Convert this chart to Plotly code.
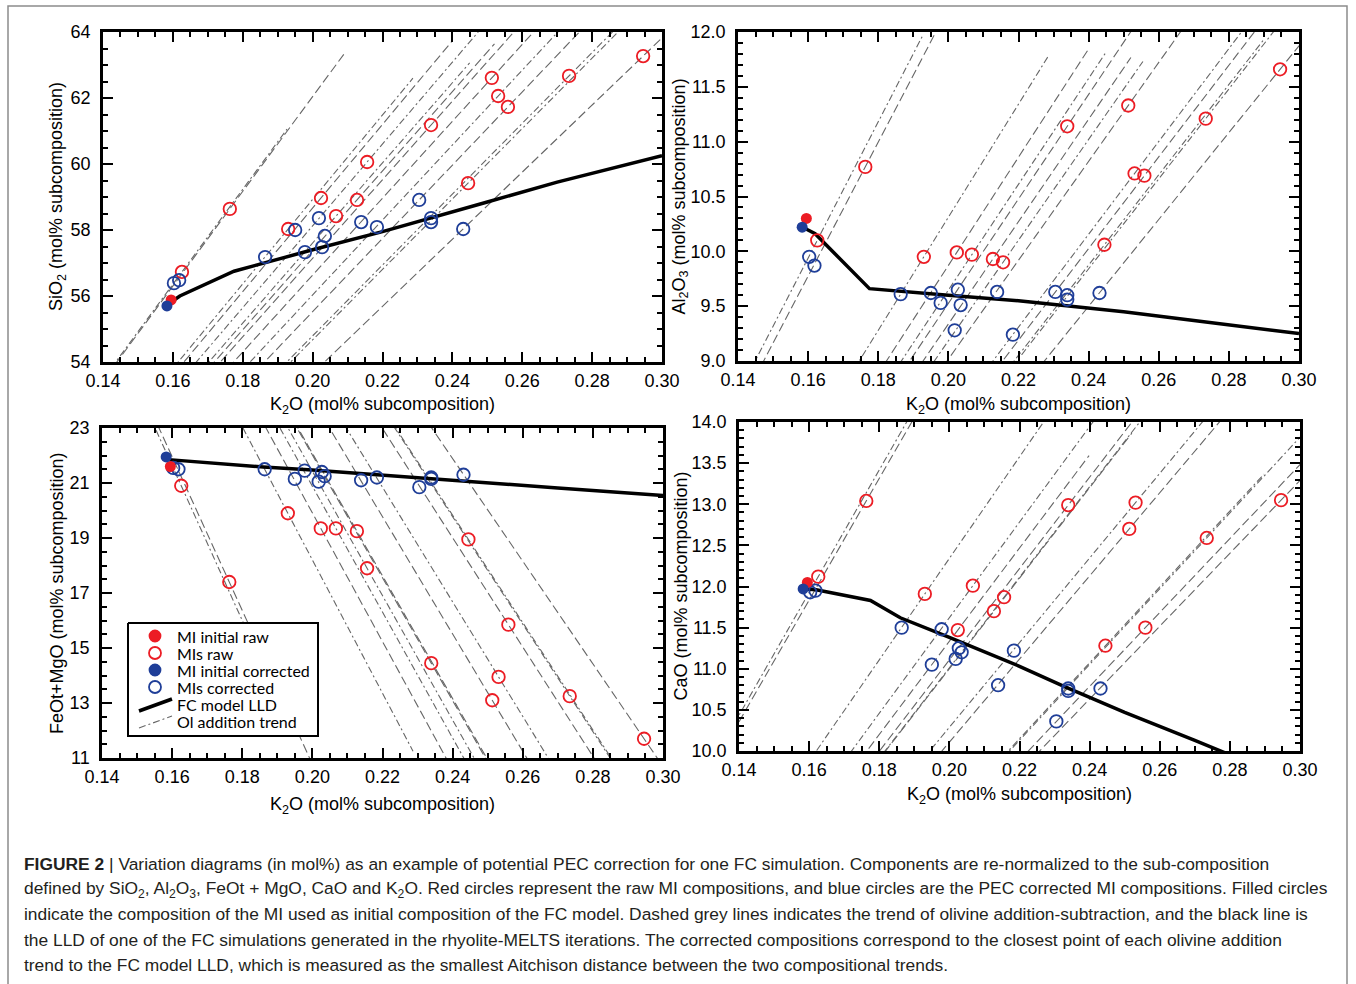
import plotly.graph_objects as go

W, H = 1356, 984

# ---------------------------------------------------------------------------
# Melt-inclusion compositions (mol% of the SiO2-Al2O3-FeOt+MgO-CaO-K2O subcomposition)
# ---------------------------------------------------------------------------
k2o_raw = [0.1626, 0.1763, 0.1930, 0.2024, 0.2067, 0.2127, 0.2156,
           0.2339, 0.2445, 0.2513, 0.2531, 0.2559, 0.2734, 0.2946]
k2o_corr = [0.1603, 0.1618, 0.1864, 0.1950, 0.1978, 0.2035, 0.2018,
            0.2027, 0.2339, 0.2139, 0.2184, 0.2305, 0.2339, 0.2431]

sio2_raw = [56.73, 58.64, 58.03, 58.97, 58.42, 58.91, 60.06,
            61.18, 59.42, 62.61, 62.06, 61.73, 62.67, 63.27]
sio2_corr = [56.39, 56.48, 57.18, 58.00, 57.33, 57.82, 58.36,
             57.48, 58.24, 58.24, 58.09, 58.91, 58.36, 58.03]

al2o3_raw = [10.10, 10.77, 9.95, 9.99, 9.97, 9.93, 9.90,
             11.14, 10.06, 11.33, 10.71, 10.69, 11.21, 11.66]
al2o3_corr = [9.95, 9.87, 9.61, 9.62, 9.53, 9.51, 9.28,
              9.65, 9.60, 9.63, 9.24, 9.63, 9.56, 9.62]

femg_raw = [20.90, 17.40, 19.90, 19.35, 19.35, 19.25, 17.90,
            14.45, 18.95, 13.10, 13.95, 15.85, 13.25, 11.70]
femg_corr = [21.55, 21.50, 21.50, 21.15, 21.45, 21.25, 21.05,
             21.40, 21.15, 21.10, 21.20, 20.85, 21.20, 21.30]

cao_raw = [12.12, 13.04, 11.91, 11.47, 12.01, 11.70, 11.87,
           12.99, 11.28, 12.70, 13.02, 11.50, 12.59, 13.05]
cao_corr = [11.93, 11.95, 11.50, 11.05, 11.48, 11.20, 11.12,
            11.25, 10.76, 10.80, 11.22, 10.36, 10.73, 10.76]

# Inclusion used as the starting composition of the FC model
init_k2o_raw, init_k2o_corr = 0.1595, 0.1583
init_raw = {"SiO2": 55.88, "Al2O3": 10.30, "FeMg": 21.60, "CaO": 12.05}
init_corr = {"SiO2": 55.70, "Al2O3": 10.22, "FeMg": 21.95, "CaO": 11.97}

# FC model liquid line of descent (rhyolite-MELTS run)
lld_k2o = [0.1590, 0.1620, 0.1775, 0.1860, 0.2000, 0.2200, 0.2330, 0.2500, 0.2700, 0.3000]
lld_sio2 = [55.78, 56.00, 56.75, 57.00, 57.40, 57.95, 58.35, 58.85, 59.45, 60.25]
lld_al2o3 = [10.21, 10.16, 9.66, 9.64, 9.60, 9.55, 9.51, 9.45, 9.37, 9.25]
lld_femg = [21.85, 21.82, 21.65, 21.58, 21.47, 21.28, 21.15, 21.00, 20.82, 20.55]
lld_cao = [11.97, 11.96, 11.83, 11.62, 11.38, 11.03, 10.78, 10.47, 10.13, 9.60]

# Olivine end-member in the same subcomposition (K2O = 0)
olivine = {"SiO2": 33.33, "Al2O3": 0.0, "FeMg": 66.67, "CaO": 0.0}
# Melt fraction range spanned by each olivine addition-subtraction trend
trend_span = (0.50, 1.185)

# ---------------------------------------------------------------------------
RED = "#ec1c24"
BLUE = "#1f3e98"
TREND = "#666666"
AX_FONT = "Liberation Sans, Arial, Helvetica, sans-serif"
LEG_FONT = "Lato, Noto Sans, sans-serif"
CAP_FONT = "Liberation Sans, Arial, Helvetica, sans-serif"
DASHES = ["7px,3px,2px,3px", "9px,4px"]

# Panel frames in pixels: (left, right, top, bottom)
PANELS = {
    1: (103, 662, 32, 362),
    2: (738, 1299, 32, 361),
    3: (102, 663, 428, 758),
    4: (739, 1300, 422, 751),
}

fig = go.Figure()


def add_panel(n, key, raw, corr, lld, init_r, init_c):
    xa, ya = ("x", "y") if n == 1 else (f"x{n}", f"y{n}")
    ol = olivine[key]
    # olivine addition-subtraction trends through each raw inclusion
    for i, (k, v) in enumerate(zip(k2o_raw, raw)):
        xs = [t * k for t in trend_span]
        ys = [ol + t * (v - ol) for t in trend_span]
        fig.add_trace(go.Scatter(x=xs, y=ys, mode="lines", xaxis=xa, yaxis=ya,
                                 line=dict(color=TREND, width=1.1, dash=DASHES[i % 2]),
                                 showlegend=False, hoverinfo="skip"))
    # FC model LLD
    fig.add_trace(go.Scatter(x=lld_k2o, y=lld, mode="lines", xaxis=xa, yaxis=ya,
                             line=dict(color="black", width=3.5),
                             showlegend=False))
    # raw and corrected inclusions
    fig.add_trace(go.Scatter(x=k2o_raw, y=raw, mode="markers", xaxis=xa, yaxis=ya,
                             marker=dict(symbol="circle-open", size=12.5, color=RED,
                                         line=dict(width=1.8, color=RED)),
                             showlegend=False))
    fig.add_trace(go.Scatter(x=k2o_corr, y=corr, mode="markers", xaxis=xa, yaxis=ya,
                             marker=dict(symbol="circle-open", size=12.5, color=BLUE,
                                         line=dict(width=1.8, color=BLUE)),
                             showlegend=False))
    fig.add_trace(go.Scatter(x=[init_k2o_raw], y=[init_r], mode="markers", xaxis=xa, yaxis=ya,
                             marker=dict(symbol="circle", size=11, color=RED),
                             showlegend=False))
    fig.add_trace(go.Scatter(x=[init_k2o_corr], y=[init_c], mode="markers", xaxis=xa, yaxis=ya,
                             marker=dict(symbol="circle", size=11, color=BLUE),
                             showlegend=False))


add_panel(1, "SiO2", sio2_raw, sio2_corr, lld_sio2, init_raw["SiO2"], init_corr["SiO2"])
add_panel(2, "Al2O3", al2o3_raw, al2o3_corr, lld_al2o3, init_raw["Al2O3"], init_corr["Al2O3"])
add_panel(3, "FeMg", femg_raw, femg_corr, lld_femg, init_raw["FeMg"], init_corr["FeMg"])
add_panel(4, "CaO", cao_raw, cao_corr, lld_cao, init_raw["CaO"], init_corr["CaO"])


def axis_common():
    return dict(showline=True, linecolor="black", linewidth=2.5, mirror="allticks",
                ticks="inside", ticklen=10, tickwidth=2, tickcolor="black",
                showgrid=False, zeroline=False, fixedrange=True, automargin=False,
                tickfont=dict(family=AX_FONT, size=18, color="black"))


y_specs = {
    1: dict(range=[54, 64], tick0=54, dtick=2, minor=0.5, fmt="d"),
    2: dict(range=[9, 12], tick0=9, dtick=0.5, minor=0.1, fmt=".1f"),
    3: dict(range=[11, 23], tick0=11, dtick=2, minor=0.5, fmt="d"),
    4: dict(range=[10, 14], tick0=10, dtick=0.5, minor=0.1, fmt=".1f"),
}

layout_axes = {}
for n, (l, r, t, b) in PANELS.items():
    xs = "xaxis" if n == 1 else f"xaxis{n}"
    ys = "yaxis" if n == 1 else f"yaxis{n}"
    anchor_x = "y" if n == 1 else f"y{n}"
    anchor_y = "x" if n == 1 else f"x{n}"
    xa = axis_common()
    xa.update(domain=[l / W, r / W], range=[0.14, 0.30], tick0=0.14, dtick=0.02,
              tickformat=".2f", anchor=anchor_x, ticklabelstandoff=1,
              minor=dict(ticks="inside", ticklen=5, tickwidth=2, tickcolor="black",
                         dtick=0.005, tick0=0.14, showgrid=False))
    spec = y_specs[n]
    ya = axis_common()
    ya.update(domain=[1 - b / H, 1 - t / H], range=spec["range"], tick0=spec["tick0"],
              dtick=spec["dtick"], tickformat=spec["fmt"], anchor=anchor_y,
              ticklabelstandoff=6,
              minor=dict(ticks="inside", ticklen=5, tickwidth=2, tickcolor="black",
                         dtick=spec["minor"], tick0=spec["tick0"], showgrid=False))
    layout_axes[xs] = xa
    layout_axes[ys] = ya

# full-figure pixel overlay used for the legend box
layout_axes["xaxis5"] = dict(domain=[0, 1], range=[0, W], visible=False, anchor="y5",
                             fixedrange=True, automargin=False)
layout_axes["yaxis5"] = dict(domain=[0, 1], range=[H, 0], visible=False, anchor="x5",
                             fixedrange=True, automargin=False)

# ---------------------------------------------------------------------------
# Legend (drawn inside the FeOt+MgO panel)
# ---------------------------------------------------------------------------
LEG_BOX = (128, 318, 623, 736)
leg_rows = [636, 653, 670, 687, 704, 721]
leg_sym_x = 155
leg_text_x = 175
leg_labels = ["MI initial raw", "MIs raw", "MI initial corrected", "MIs corrected",
              "FC model LLD", "Ol addition trend"]

bl, br, bt, bb = LEG_BOX
fig.add_trace(go.Scatter(x=[bl, br, br, bl, bl], y=[bt, bt, bb, bb, bt], mode="lines",
                         fill="toself", fillcolor="white", xaxis="x5", yaxis="y5",
                         line=dict(color="black", width=2), showlegend=False,
                         hoverinfo="skip"))
leg_markers = [("circle", RED), ("circle-open", RED), ("circle", BLUE), ("circle-open", BLUE)]
for (sym, col), yy in zip(leg_markers, leg_rows[:4]):
    fig.add_trace(go.Scatter(x=[leg_sym_x], y=[yy], mode="markers", xaxis="x5", yaxis="y5",
                             marker=dict(symbol=sym, size=11 if sym == "circle" else 12,
                                         color=col, line=dict(width=1.8, color=col)),
                             showlegend=False, hoverinfo="skip"))
fig.add_trace(go.Scatter(x=[139, 172], y=[leg_rows[4] + 7, leg_rows[4] - 5], mode="lines",
                         xaxis="x5", yaxis="y5", line=dict(color="black", width=3.5),
                         showlegend=False, hoverinfo="skip"))
fig.add_trace(go.Scatter(x=[139, 172], y=[leg_rows[5] + 7, leg_rows[5] - 5], mode="lines",
                         xaxis="x5", yaxis="y5",
                         line=dict(color=TREND, width=1.1, dash=DASHES[0]),
                         showlegend=False, hoverinfo="skip"))

annotations = []
for txt, yy in zip(leg_labels, leg_rows):
    annotations.append(dict(x=leg_text_x, y=yy, xref="x5", yref="y5", text=txt,
                            showarrow=False, xanchor="left", yanchor="middle",
                            font=dict(family=LEG_FONT, size=16, color="black")))

# ---------------------------------------------------------------------------
# Axis titles
# ---------------------------------------------------------------------------
x_title = "K<sub>2</sub>O (mol% subcomposition)"
y_titles = {
    1: "SiO<sub>2</sub> (mol% subcomposition)",
    2: "Al<sub>2</sub>O<sub>3</sub> (mol% subcomposition)",
    3: "FeOt+MgO (mol% subcomposition)",
    4: "CaO (mol% subcomposition)",
}
x_title_y = {1: 405, 2: 405, 3: 805, 4: 795}
y_title_x = {1: 57, 2: 680, 3: 57, 4: 680}
for n, (l, r, t, b) in PANELS.items():
    annotations.append(dict(x=(l + r) / 2 / W, y=1 - x_title_y[n] / H, xref="paper",
                            yref="paper", text=x_title, showarrow=False,
                            xanchor="center", yanchor="middle",
                            font=dict(family=AX_FONT, size=18, color="black")))
    annotations.append(dict(x=y_title_x[n] / W, y=1 - (t + b) / 2 / H, xref="paper",
                            yref="paper", text=y_titles[n], showarrow=False,
                            textangle=-90, xanchor="center", yanchor="middle",
                            font=dict(family=AX_FONT, size=18, color="black")))

# ---------------------------------------------------------------------------
# Caption
# ---------------------------------------------------------------------------
caption_lines = [
    "<b>FIGURE 2</b> | Variation diagrams (in mol%) as an example of potential PEC correction "
    "for one FC simulation. Components are re-normalized to the sub-composition",
    "defined by SiO<sub>2</sub>, Al<sub>2</sub>O<sub>3</sub>, FeOt + MgO, CaO and K<sub>2</sub>O. "
    "Red circles represent the raw MI compositions, and blue circles are the PEC corrected MI "
    "compositions. Filled circles",
    "indicate the composition of the MI used as initial composition of the FC model. Dashed grey "
    "lines indicates the trend of olivine addition-subtraction, and the black line is",
    "the LLD of one of the FC simulations generated in the rhyolite-MELTS iterations. The "
    "corrected compositions correspond to the closest point of each olivine addition",
    "trend to the FC model LLD, which is measured as the smallest Aitchison distance between the "
    "two compositional trends.",
]
caption_y = [864, 889, 914, 940, 965]
for txt, yy in zip(caption_lines, caption_y):
    annotations.append(dict(x=22 / W, y=1 - yy / H, xref="paper", yref="paper", text=txt,
                            showarrow=False, xanchor="left", yanchor="middle",
                            font=dict(family=CAP_FONT, size=17.4, color="#231f20")))

# light grey frame around the whole figure
shapes = [dict(type="rect", xref="paper", yref="paper", x0=8 / W, x1=1347 / W,
               y0=-0.05, y1=1 - 6 / H, line=dict(color="#8c8c8c", width=1.5),
               fillcolor="rgba(0,0,0,0)", layer="below")]

fig.update_layout(
    width=W, height=H, autosize=False,
    margin=dict(l=0, r=0, t=0, b=0, pad=0, autoexpand=False),
    paper_bgcolor="white", plot_bgcolor="rgba(0,0,0,0)",
    showlegend=False,
    annotations=annotations,
    shapes=shapes,
    **layout_axes,
)

fig.write_html("out.html", config={"displayModeBar": False})
